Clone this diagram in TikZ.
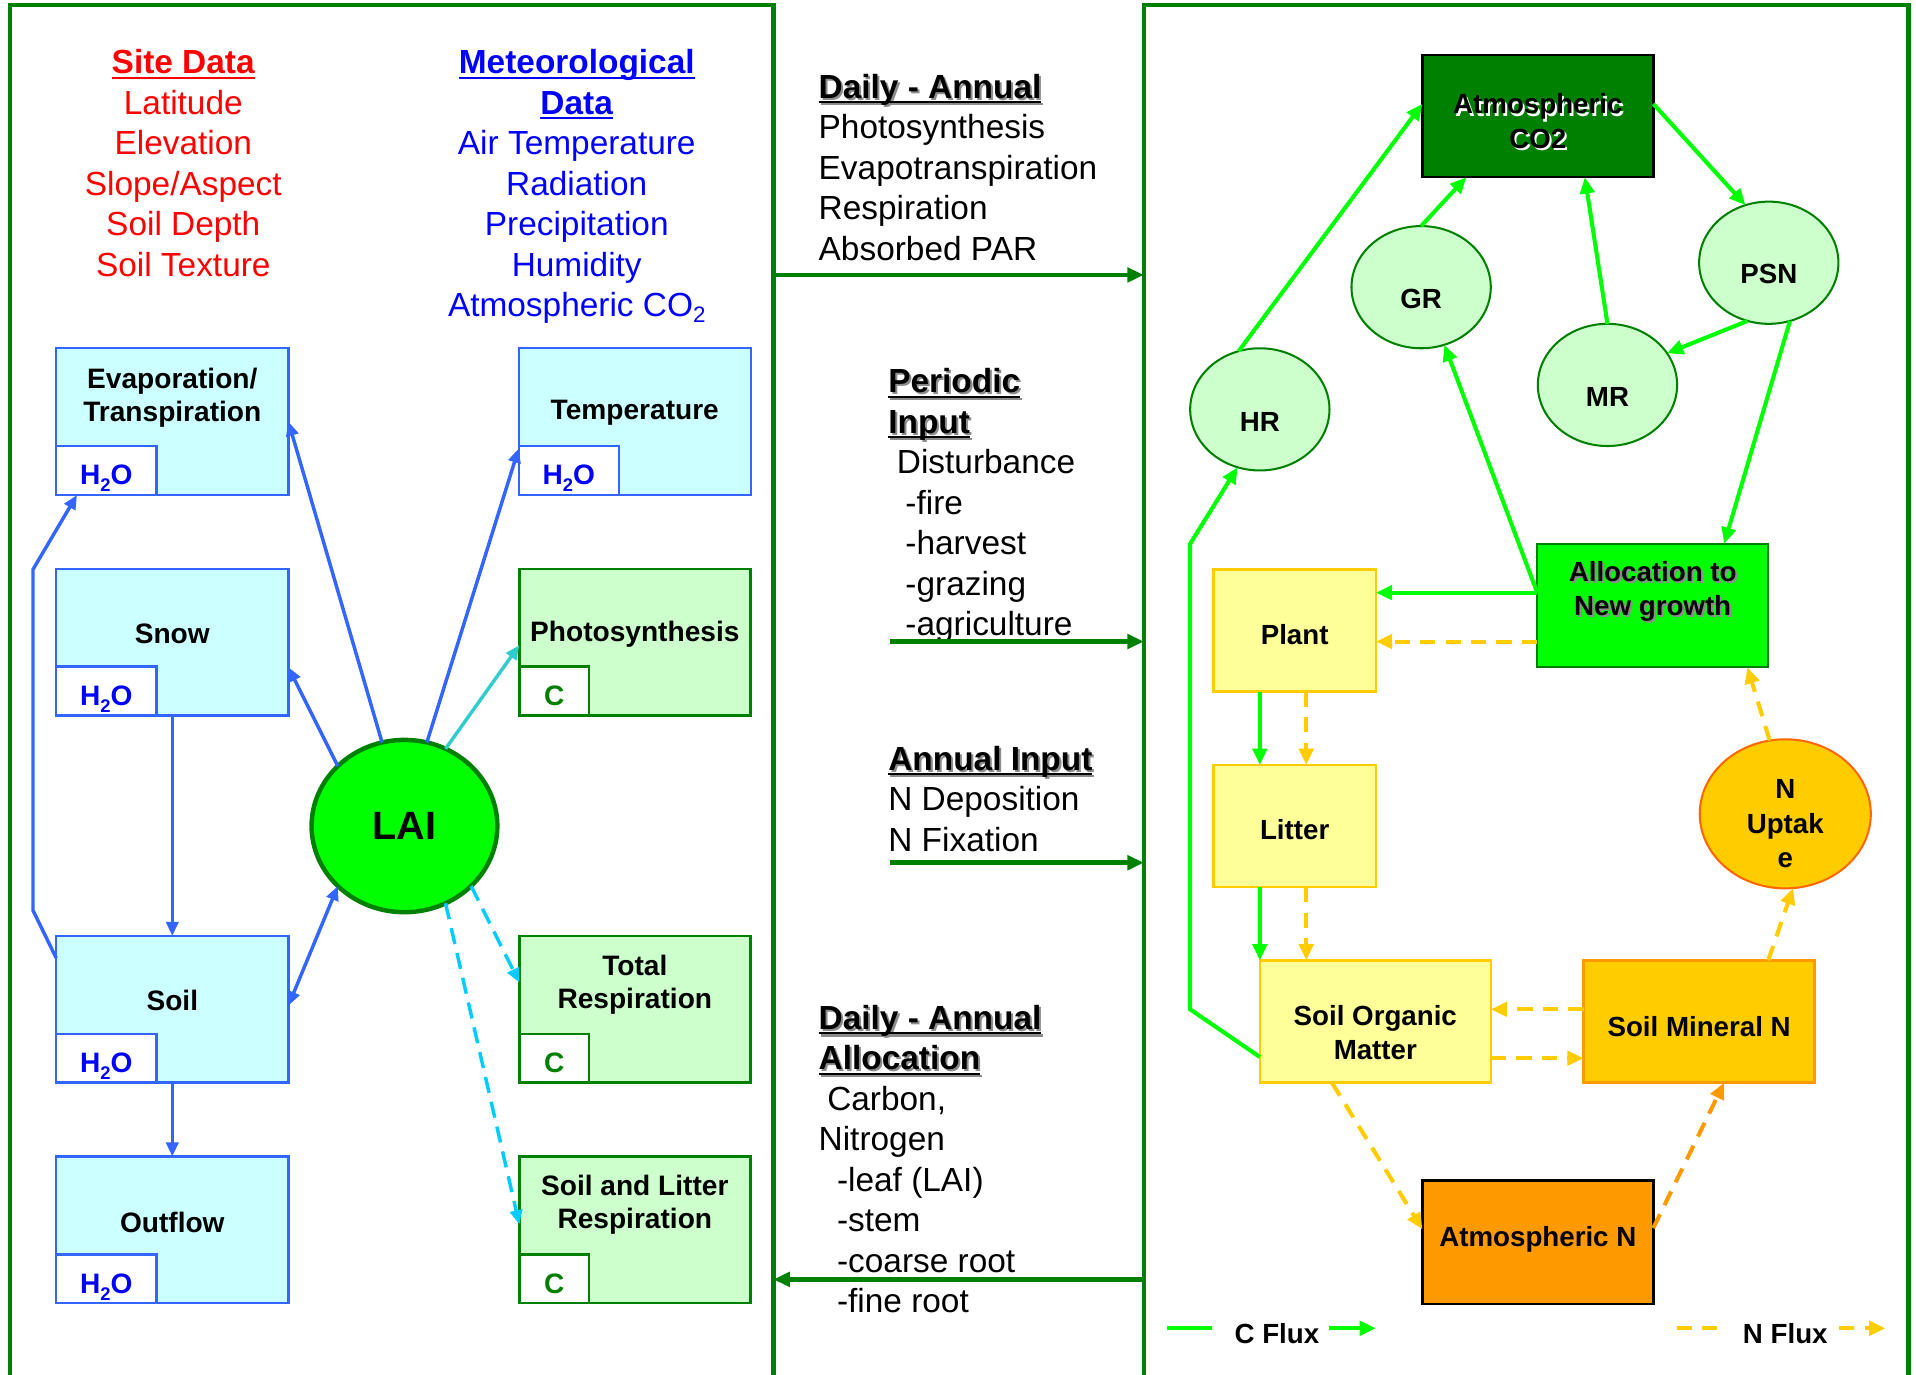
\documentclass[tikz,border=0pt]{standalone}
\usepackage{fontspec}
\setmainfont{Liberation Sans}
\usetikzlibrary{arrows.meta,shapes.geometric}
\definecolor{pgreen}{HTML}{008000}
\definecolor{bfill}{HTML}{CCFFFF}
\definecolor{bline}{HTML}{3366FF}
\definecolor{gfill}{HTML}{CCFFCC}
\definecolor{lime}{HTML}{00FF00}
\definecolor{yfill}{HTML}{FFFF99}
\definecolor{gold}{HTML}{FFCC00}
\definecolor{orng}{HTML}{FF9900}
\definecolor{nline}{HTML}{FF6600}
\definecolor{cyanA}{HTML}{33CCCC}
\definecolor{cyanB}{HTML}{00CCFF}
\definecolor{redT}{HTML}{FF0000}
\definecolor{blueT}{HTML}{0000FF}
\definecolor{shgray}{HTML}{8C8C8C}
\newcommand\fs[2]{\fontsize{#1}{#2}\selectfont}
\newcommand\myul[1]{\setbox0\hbox{#1}\rlap{\rule[-2.6pt]{\wd0}{1pt}}\box0}
\newcommand\shd[2]{\leavevmode\rlap{\hspace{1pt}\raisebox{-1pt}{\textcolor{#1}{#2}}}#2}
\newcommand\water{H\raisebox{-3.5pt}{\fs{9pt}{9pt}2}O}
\begin{document}
\begin{tikzpicture}[x=0.6pt,y=-0.6pt, >={Triangle[length=7pt,width=6pt]},
  every node/.style={inner sep=0pt, outer sep=0pt},
  bigtxt/.style={font=\fs{16.4pt}{19.9pt}},
  panel/.style={draw=pgreen, line width=2.2pt, minimum height=673.8pt},
  bbox/.style={draw=bline, fill=bfill, line width=1.2pt, minimum width=114pt, minimum height=72pt},
  gbox/.style={draw=pgreen, fill=gfill, line width=1.2pt, minimum width=113.4pt, minimum height=72pt},
  wsub/.style={anchor=south west, draw=bline, fill=white, line width=1.2pt, minimum width=49.2pt, minimum height=24pt, text=blueT, font=\fs{13.8pt}{16pt}\bfseries, text height=14pt, text depth=0pt},
  csub/.style={anchor=south west, draw=pgreen, fill=white, line width=1.2pt, minimum width=34.2pt, minimum height=24pt, text=pgreen, font=\fs{13.8pt}{16pt}\bfseries, text height=14pt, text depth=0pt},
  blabel/.style={font=\fs{13.8pt}{16.2pt}\bfseries, align=center},
  rlabel/.style={font=\fs{13.6pt}{16.8pt}\bfseries, align=center},
  cell/.style={ellipse, draw=pgreen, fill=gfill, line width=1pt, minimum width=68.4pt, minimum height=60pt},
  ybox/.style={draw=gold, fill=yfill, line width=1.2pt, minimum width=79.8pt, minimum height=60pt},
  wbox/.style={line width=1.2pt, minimum width=113.4pt, minimum height=60pt},
  blueln/.style={draw=bline, line width=1.7pt},
  cyanln/.style={draw=cyanA, line width=1.7pt},
  cyandash/.style={draw=cyanB, line width=1.7pt, dash pattern=on 8pt off 4.5pt},
  cflux/.style={draw=lime, line width=2pt, >={Triangle[length=8pt,width=7pt]}},
  nflux/.style={draw=gold, line width=2pt, dash pattern=on 7.5pt off 5pt, >={Triangle[length=8pt,width=7pt]}},
  midarrow/.style={draw=pgreen, line width=2.2pt, >={Triangle[length=8pt,width=7pt]}}
]
\useasboundingbox (0,0) rectangle (1568,1125);
% panels
\node[panel, minimum width=375pt] (lp) at (320.5,565.5) {};
\node[panel, minimum width=375.6pt] (rp) at (1249,565.5) {};

% ---------- left panel text ----------
\node[bigtxt, anchor=north, align=center, text=redT] (site) at (150,37)
 {\strut\myul{\textbf{Site Data}}\\Latitude\\Elevation\\Slope/Aspect\\Soil Depth\\Soil Texture};
\node[bigtxt, anchor=north, align=center, text=blueT] (met) at (472,37)
 {\strut\myul{\textbf{Meteorological}}\\\myul{\textbf{Data}}\\Air Temperature\\Radiation\\Precipitation\\Humidity\\Atmospheric CO\raisebox{-3pt}{\fs{11pt}{11pt}2}};

% ---------- left panel boxes ----------
\node[bbox] (evap) at (141,345) {};
\node[wsub] (evapw) at (evap.south west) {\water};
\node[blabel] (evapt) at (141,325.5) {Evaporation/\\Transpiration};

\node[bbox] (temp) at (519.5,345) {};
\node[wsub] (tempw) at (temp.south west) {\water};
\node[blabel] (tempt) at (519.5,338) {Temperature};

\node[bbox] (snow) at (141,525.5) {};
\node[wsub] (snoww) at (snow.south west) {\water};
\node[blabel] (snowt) at (141,519) {Snow};

\node[gbox] (photo) at (519.5,525.5) {};
\node[csub] (photoc) at (photo.south west) {C};
\node[blabel] (phott) at (519.5,519) {Photosynthesis};

\node[bbox] (soil) at (141,826) {};
\node[wsub] (soilw) at (soil.south west) {\water};
\node[blabel] (soilt) at (141,819) {Soil};

\node[gbox] (totr) at (519.5,826) {};
\node[csub] (totrc) at (totr.south west) {C};
\node[blabel] (totrt) at (519.5,805.5) {Total\\Respiration};

\node[bbox] (outf) at (141,1006.5) {};
\node[wsub] (outfw) at (outf.south west) {\water};
\node[blabel] (outft) at (141,1000) {Outflow};

\node[gbox] (slr) at (519.5,1006.5) {};
\node[csub] (slrc) at (slr.south west) {C};
\node[blabel] (slrt) at (519.5,986) {Soil and Litter\\Respiration};

\node[ellipse, draw=pgreen, fill=lime, line width=2.2pt, minimum width=91.2pt, minimum height=84.6pt, font=\fs{19.4pt}{22pt}\bfseries] (lai) at (331,676) {LAI};

% ---------- left connectors ----------
\coordinate (lp1) at (27,745);
\coordinate (lp2) at (27,466);
\draw[blueln,->] ([yshift=-10.8pt]soil.north west) -- (lp1) -- (lp2) -- ([xshift=10.2pt]evapw.south west);
\draw[blueln,->] (snow.south) -- (soil.north);
\draw[blueln,->] (soil.south) -- (outf.north);
\draw[blueln,->] (lai.138.7) -- ([yshift=-12.3pt]snow.east);
\draw[blueln,->] (lai.105) -- (evap.east);
\draw[blueln,->] (lai.75) -- ([yshift=-13.2pt]temp.west);
\draw[cyanln,->] (lai.62) -- ([yshift=-1.5pt]photo.west);
\draw[blueln,<->] ([yshift=1.8pt]soil.east) -- (lai.222);
\draw[cyandash,->] (lai.318) -- ([yshift=13.2pt]totr.west);
\draw[cyandash,->] (lai.298) -- ([yshift=2.7pt]slr.west);

% ---------- middle text ----------
\node[bigtxt, anchor=north west, align=left] (mt1) at (670,57)
 {\strut\shd{shgray}{\myul{\textbf{Daily - Annual}}}\\Photosynthesis\\Evapotranspiration\\Respiration\\Absorbed PAR};
\node[bigtxt, anchor=north west, align=left] (mt2) at (727,298)
 {\strut\shd{shgray}{\myul{\textbf{Periodic}}}\\\shd{shgray}{\myul{\textbf{Input}}}\\\hspace*{4.2pt}Disturbance\\\hspace*{8.4pt}-fire\\\hspace*{8.4pt}-harvest\\\hspace*{8.4pt}-grazing\\\hspace*{8.4pt}-agriculture};
\node[bigtxt, anchor=north west, align=left] (mt3) at (727,607)
 {\strut\shd{shgray}{\myul{\textbf{Annual Input}}}\\N Deposition\\N Fixation};
\node[bigtxt, anchor=north west, align=left] (mt4) at (670,819)
 {\strut\shd{shgray}{\myul{\textbf{Daily - Annual}}}\\\shd{shgray}{\myul{\textbf{Allocation}}}\\\hspace*{4.2pt}Carbon,\\Nitrogen\\\hspace*{9pt}-leaf (LAI)\\\hspace*{9pt}-stem\\\hspace*{9pt}-coarse root\\\hspace*{9pt}-fine root};

\coordinate (m1) at (700,225);
\draw[midarrow,->] (m1 -| lp.east) -- (m1 -| rp.west);
\coordinate (m2) at (728,525);
\draw[midarrow,->] (m2) -- (m2 -| rp.west);
\coordinate (m3) at (728,706);
\draw[midarrow,->] (m3) -- (m3 -| rp.west);
\coordinate (m4) at (700,1047);
\draw[midarrow,->] (m4 -| rp.west) -- (m4 -| lp.east);

% ---------- right panel nodes ----------
\node[wbox, draw=black, fill=pgreen] (co2) at (1258.5,95) {};
\node[rlabel] (co2t) at (1258.5,100) {\shd{white}{Atmospheric}\\\shd{white}{CO2}};
\node[cell] (gr) at (1163,235) {};
\node[rlabel] (grt) at (1163,245) {GR};
\node[cell] (psn) at (1447.5,215) {};
\node[rlabel] (psnt) at (1447.5,224) {PSN};
\node[cell] (hr) at (1031,335) {};
\node[rlabel] (hrt) at (1031,345) {HR};
\node[cell] (mr) at (1315.5,315) {};
\node[rlabel] (mrt) at (1315.5,325) {MR};

\node[wbox, draw=pgreen, fill=lime, minimum height=60.6pt] (alloc) at (1352.5,495.5) {};
\node[rlabel] (alloct) at (1352.5,485) {\shd{shgray}{Allocation to}\\\shd{shgray}{New growth}};
\node[ybox] (plant) at (1059.5,516) {};
\node[rlabel] (plantt) at (1059.5,519) {Plant};
\node[ybox] (litter) at (1059.5,676) {};
\node[rlabel] (littert) at (1059.5,679) {Litter};
\node[wbox, draw=gold, fill=yfill] (som) at (1125.5,836) {};
\node[rlabel] (somt) at (1125.5,845) {Soil Organic\\Matter};
\node[wbox, draw=orng, fill=gold] (smn) at (1390.5,836) {};
\node[rlabel] (smnt) at (1390.5,840) {Soil Mineral N};
\node[wbox, draw=black, fill=orng, minimum height=60.6pt] (atmn) at (1258.5,1016.5) {};
\node[rlabel] (atmnt) at (1258.5,1014) {Atmospheric N};
\node[ellipse, draw=nline, fill=gold, line width=1pt, minimum width=84pt, minimum height=73.2pt] (nup) at (1461,666) {};
\node[rlabel] (nupt) at (1461,674) {N\\Uptak\\e};

% ---------- C flux ----------
\draw[cflux,->] (hr.110.8) -- ([yshift=6pt]co2.west);
\draw[cflux,->] (gr.north) -- ([xshift=-35.1pt]co2.south);
\draw[cflux,->] (mr.north) -- ([xshift=23.1pt]co2.south);
\draw[cflux,->] ([yshift=6pt]co2.east) -- (psn.112);
\draw[cflux,->] (psn.250.7) -- (mr.28.3);
\draw[cflux,->] (psn.290.3) -- ([xshift=35.1pt]alloc.north);
\coordinate (aw) at ([yshift=6.3pt]alloc.west);
\draw[cflux,->] (aw) -- (gr.292);
\draw[cflux,->] (aw) -- (aw -| plant.east);
\draw[cflux,->] ([xshift=-17.1pt]plant.south) -- ([xshift=-17.1pt]litter.north);
\draw[cflux,->] ([xshift=-17.1pt]litter.south) -- (som.north west);
\coordinate (hp1) at (974,826);
\coordinate (hp2) at (974,445);
\draw[cflux,->] ([yshift=-17.4pt]som.west) -- (hp1) -- (hp2) -- (hr.249.6);

% ---------- N flux ----------
\coordinate (aw2) at ([yshift=-17.7pt]alloc.west);
\draw[nflux,->] (aw2) -- (aw2 -| plant.east);
\draw[nflux,->] ([xshift=5.7pt]plant.south) -- ([xshift=5.7pt]litter.north);
\coordinate (ls) at ([xshift=5.7pt]litter.south);
\draw[nflux,->] (ls) -- (ls |- som.north);
\coordinate (sw) at ([yshift=6pt]smn.west);
\draw[nflux,->] (sw) -- (sw -| som.east);
\coordinate (se) at ([yshift=-18pt]som.east);
\draw[nflux,->] (se) -- (se -| smn.west);
\draw[nflux,->] ([xshift=-21.3pt]som.south) -- ([yshift=6.3pt]atmn.west);
\draw[nflux,draw=orng,->] ([yshift=6.9pt]atmn.east) -- ([xshift=12.3pt]smn.south);
\draw[nflux,->] ([xshift=33.9pt]smn.north) -- (nup.276.5);
\draw[nflux,->] (nup.102.9) -- ([xshift=46.5pt]alloc.south);

% ---------- legend ----------
\coordinate (cl1) at (955,1087);
\coordinate (cl2) at (992,1087);
\draw[cflux] (cl1) -- (cl2);
\node[rlabel] (cfl) at (1045,1091) {C Flux};
\coordinate (cl3) at (1088,1087);
\coordinate (cl4) at (1126,1087);
\draw[cflux,->] (cl3) -- (cl4);
\coordinate (nl1) at (1372,1087);
\coordinate (nl2) at (1410,1087);
\draw[nflux] (nl1) -- (nl2);
\node[rlabel] (nfl) at (1461,1091) {N Flux};
\coordinate (nl3) at (1505,1087);
\coordinate (nl4) at (1543,1087);
\draw[nflux,->] (nl3) -- (nl4);
\end{tikzpicture}
\end{document}
